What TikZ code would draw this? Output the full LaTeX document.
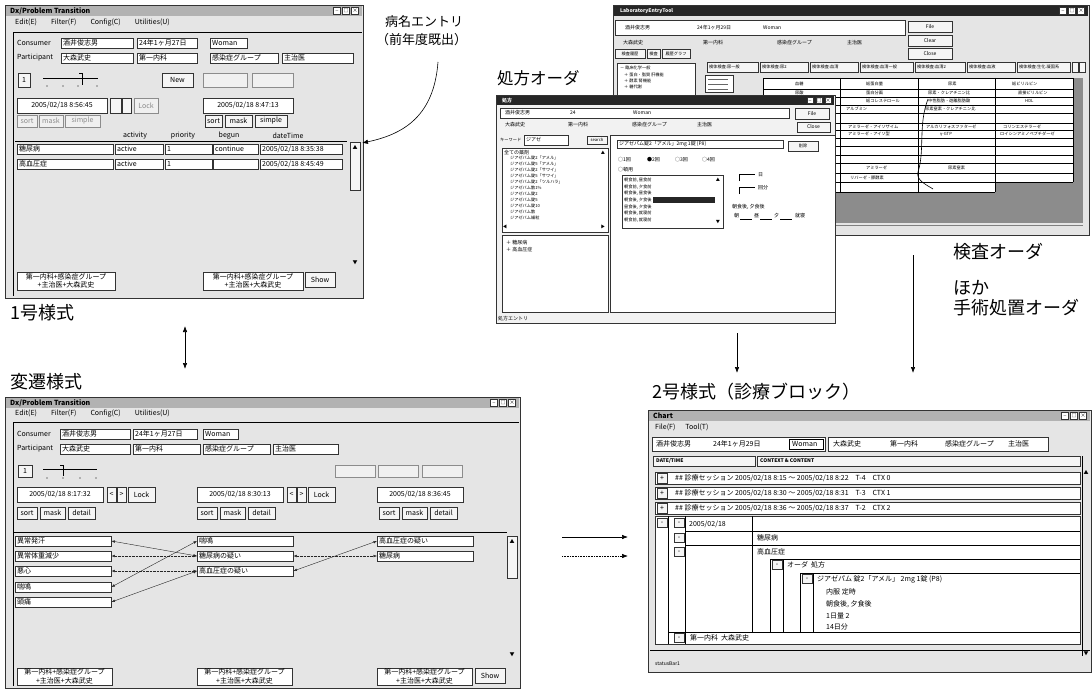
\documentclass[tikz,border=0pt]{standalone}
\usepackage{fontspec}
\setmainfont{Noto Sans CJK JP}
\usetikzlibrary{arrows.meta}

\newcommand\winfs{\fontsize{7}{8.5}\selectfont}
\newcommand\smlfs{\fontsize{5}{6}\selectfont}
\newcommand\tnyfs{\fontsize{4.2}{5}\selectfont}

\tikzset{
  win/.style={draw=black!80, line width=0.6pt, fill=black!10},
  tbar/.style={fill=black!30},
  dbar/.style={fill=black!85},
  fld/.style={draw=black!80, fill=white},
  btn/.style={draw=black!80, fill=black!4},
  gbtn/.style={draw=black!45, fill=black!6},
  tx/.style={font=\winfs, anchor=west, inner sep=0pt},
  ctx/.style={font=\winfs, inner sep=0pt},
  gtx/.style={ctx, text=black!45},
  stx/.style={font=\smlfs, anchor=west, inner sep=0pt},
  ttx/.style={font=\tnyfs, anchor=west, inner sep=0pt},
  wctl/.style={draw=black!80, fill=white, font=\smlfs, inner sep=0pt, minimum size=7pt},
  lbl/.style={font=\fontsize{18}{21}\selectfont, anchor=west, inner sep=0pt},
  item/.style={draw=black!80, fill=white, anchor=west, text width=92pt, inner xsep=2pt,
    inner ysep=0pt, minimum height=10pt, font=\winfs, align=left},
  link/.style={{Latex[length=3.5pt,width=2.6pt]}-{Latex[length=3.5pt,width=2.6pt]}, black!85},
  flow/.style={-{Latex[length=6pt,width=4.5pt]}, black, line width=0.6pt}
}

\begin{document}
\begin{tikzpicture}[x=1pt,y=-1pt]
\useasboundingbox (0,0) rectangle (1092,690);
\fill[white] (0,0) rectangle (1092,690);

% ---------- 1号様式 : Dx/Problem Transition
\draw[win] (5,5) rectangle (363,298);
\fill[tbar] (6,6) rectangle (362,16);
\node[tx, font=\bfseries\winfs] at (10,11) {Dx/Problem Transition};
\foreach \x/\sym in {337/\_, 346/□, 355/×} \node[wctl] at (\x,11) {\sym};
\node[tx] at (15,23) {Edit(E)\hspace{14pt}Filter(F)\hspace{14pt}Config(C)\hspace{14pt}Utilities(U)};
\draw[line width=0.9pt] (13,296) -- (13,32) -- (362,32);
\node[tx] at (17,43) {Consumer};
\foreach \xa/\xb/\lab in {61/133/酒井俊志男, 137/197/24年1ヶ月27日, 210/247/Woman} {
  \draw[fld] (\xa,38) rectangle (\xb,48);
  \node[tx] at (\xa+2,43) {\lab};
}
\node[tx] at (17,58) {Participant};
\foreach \xa/\xb/\lab in {61/133/大森武史, 137/197/第一内科, 210/278/感染症グループ, 282/353/主治医} {
  \draw[fld] (\xa,53) rectangle (\xb,63);
  \node[tx] at (\xa+2,58) {\lab};
}
\draw[btn] (18,73) rectangle (30,87); \node[ctx] at (24,80) {1};
\draw (43,78) -- (98,78);
\draw[line width=0.8pt] (79,73) -- (82,73) -- (82,85);
\foreach \x in {47,63,78,97} \fill (\x,86) circle (0.6);
\draw[btn] (162,73) rectangle (193,87); \node[ctx] at (177.5,80) {New};
\draw[gbtn] (203,73) rectangle (247,87);
\draw[gbtn] (252,73) rectangle (293,87);
\draw[fld] (17,98) rectangle (107,113); \node[ctx] at (62,105.5) {2005/02/18 8:56:45};
\draw[btn] (110,98) rectangle (121,113);
\draw[btn] (122,98) rectangle (131,113);
\draw[gbtn] (134,98) rectangle (158,113); \node[gtx] at (146,105.5) {Lock};
\draw[fld] (203,98) rectangle (293,113); \node[ctx] at (248,105.5) {2005/02/18 8:47:13};
\foreach \xa/\xb/\lab in {17/37/sort, 39/63/mask, 65/100/simple} {
  \draw[gbtn] (\xa,115) rectangle (\xb,127); \node[gtx] at ({(\xa+\xb)/2},121) {\lab};
}
\foreach \xa/\xb/\lab in {205/222/sort, 225/252/mask, 255/287/simple} {
  \draw[btn] (\xa,115) rectangle (\xb,127); \node[ctx] at ({(\xa+\xb)/2},121) {\lab};
}
\foreach \x/\lab in {135/activity, 183/priority, 229/begun, 288/dateTime}
  \node[ctx] at (\x,136) {\lab};
\draw (15,141) -- (347,141);
\draw[btn] (350,142) rectangle (360,190);
\node[ctx, font=\smlfs] at (355,147) {▲};
\node[ctx, font=\smlfs] at (355,263) {▼};
\foreach \xa/\xb/\lab in {17/113/糖尿病, 115/163/active, 165/212/1, 213/258/continue, 260/342/{2005/02/18 8:35:38}} {
  \draw[fld] (\xa,144) rectangle (\xb,154); \node[tx] at (\xa+2,149) {\lab};
}
\foreach \xa/\xb/\lab in {17/113/高血圧症, 115/163/active, 165/212/1, 213/258/{}, 260/342/{2005/02/18 8:45:49}} {
  \draw[fld] (\xa,159) rectangle (\xb,169); \node[tx] at (\xa+2,164) {\lab};
}
\foreach \xa/\xb in {17/115, 203/303} {
  \draw[fld] (\xa,272) rectangle (\xb,290);
  \node[ctx, align=center] at ({(\xa+\xb)/2},281) {第一内科+感染症グループ\\+主治医+大森武史};
}
\draw[btn] (305,272) rectangle (335,287); \node[ctx] at (320,279.5) {Show};
\node[lbl] (form1) at (10,313) {1号様式};

% ---------- 変遷様式 : Dx/Problem Transition (3 columns)
\draw[win] (5,397) rectangle (520,688);
\fill[tbar] (6,398) rectangle (519,408);
\node[tx, font=\bfseries\winfs] at (10,403) {Dx/Problem Transition};
\foreach \x/\sym in {494/\_, 503/□, 512/×} \node[wctl] at (\x,403) {\sym};
\node[tx] at (15,414) {Edit(E)\hspace{14pt}Filter(F)\hspace{14pt}Config(C)\hspace{14pt}Utilities(U)};
\draw[line width=0.9pt] (13,686) -- (13,422) -- (519,422);
\node[tx] at (17,434) {Consumer};
\foreach \xa/\xb/\lab in {60/130/酒井俊志男, 133/197/24年1ヶ月27日, 203/238/Woman} {
  \draw[fld] (\xa,429) rectangle (\xb,439);
  \node[tx] at (\xa+2,434) {\lab};
}
\node[tx] at (17,449) {Participant};
\foreach \xa/\xb/\lab in {60/130/大森武史, 133/200/第一内科, 203/270/感染症グループ, 273/338/主治医} {
  \draw[fld] (\xa,444) rectangle (\xb,454);
  \node[tx] at (\xa+2,449) {\lab};
}
\draw[btn] (18,465) rectangle (32,477); \node[ctx] at (25,471) {1};
\draw (43,469) -- (97,469);
\draw[line width=0.8pt] (60,465) -- (63,465) -- (63,476);
\foreach \x in {47,63,80,96} \fill (\x,478) circle (0.6);
\foreach \xa/\xb in {335/375, 378/418, 422/462} \draw[gbtn] (\xa,465) rectangle (\xb,477);
\foreach \xa/\lab in {17/{2005/02/18 8:17:32}, 197/{2005/02/18 8:30:13}, 377/{2005/02/18 8:36:45}} {
  \draw[fld] (\xa,487) rectangle (\xa+86,502); \node[ctx] at (\xa+43,494.5) {\lab};
}
\foreach \xa in {107,287} {
  \draw[btn] (\xa,487) rectangle (\xa+9,502); \node[ctx] at (\xa+4.5,494.5) {<};
  \draw[btn] (\xa+10,487) rectangle (\xa+19,502); \node[ctx] at (\xa+14.5,494.5) {>};
  \draw[btn] (\xa+21,487) rectangle (\xa+48,502); \node[ctx] at (\xa+34.5,494.5) {Lock};
}
\foreach \xa in {17,197,379} {
  \draw[btn] (\xa,507) rectangle (\xa+20,519); \node[ctx] at (\xa+10,513) {sort};
  \draw[btn] (\xa+23,507) rectangle (\xa+48,519); \node[ctx] at (\xa+35.5,513) {mask};
  \draw[btn] (\xa+51,507) rectangle (\xa+78,519); \node[ctx] at (\xa+64.5,513) {detail};
}
\draw (13,532) -- (507,532);
\draw[btn] (507,536) rectangle (517,578);
\node[ctx, font=\smlfs] at (512,541) {▲};
\node[ctx, font=\smlfs] at (512,655) {▼};
% transition lists
\foreach \n/\y/\lab in {a1/541/異常発汗, a2/556/異常体重減少, a3/571/悪心, a4/587/喘鳴, a5/602/頭痛}
  \node[item] (\n) at (15,\y) {\lab};
\foreach \n/\y/\lab in {b1/541/喘鳴, b2/556/糖尿病の疑い, b3/571/高血圧症の疑い}
  \node[item] (\n) at (197,\y) {\lab};
\foreach \n/\y/\lab in {c1/541/高血圧症の疑い, c2/556/糖尿病}
  \node[item] (\n) at (377,\y) {\lab};
\draw[link] (a1.east) -- (b2.west);
\draw[link, densely dotted] (a2.east) -- (b2.west);
\draw[link, densely dotted] (a3.east) -- (b3.west);
\draw[link] (a4.east) -- (b1.west);
\draw[link] (a5.east) -- (b3.west);
\draw[link, densely dotted] (b2.east) -- (c2.west);
\draw[link] (b3.east) -- (c1.west);
\foreach \xa in {17,197,377} {
  \draw[fld] (\xa,668) rectangle (\xa+95,685);
  \node[ctx, align=center] at (\xa+47.5,676.5) {第一内科+感染症グループ\\+主治医+大森武史};
}
\draw[btn] (475,668) rectangle (505,683); \node[ctx] at (490,675.5) {Show};
\node[lbl] (form1t) at (10,382) {変遷様式};

% ---------- 検査オーダ : LaboratoryEntryTool
\draw[win] (613,5) rectangle (1089,235);
\fill[dbar] (614,6) rectangle (1088,16);
\node[tx, text=white, font=\bfseries\itshape\smlfs] at (620,11) {LaboratoryEntryTool};
\foreach \x/\sym in {1063/\_, 1072/□, 1081/×} \node[wctl] at (\x,11) {\sym};
\draw[fld] (615,20) rectangle (905,35);
\foreach \x/\lab in {625/酒井俊志男, 697/24年1ヶ月29日, 763/Woman} \node[stx] at (\x,27.5) {\lab};
\foreach \y/\lab in {27/File, 40.5/Clear, 53.5/Close} {
  \draw[btn] (908,\y-5.5) rectangle (952,\y+5.5); \node[ctx, font=\smlfs] at (930,\y) {\lab};
}
\foreach \x/\lab in {623/大森武史, 703/第一内科, 777/感染症グループ, 847/主治医} \node[stx] at (\x,43) {\lab};
\foreach \xa/\xb/\lab in {615/645/検査履歴, 647/660/検査, 662/690/履歴グラフ} {
  \draw[btn] (\xa,49) rectangle (\xb,58); \node[ctx, font=\tnyfs] at ({(\xa+\xb)/2},53.5) {\lab};
}
\draw[fld] (617,63) rectangle (695,100);
\foreach \x/\y/\lab in {620/68/－ 臨床化学一般, 624/75/＋ 蛋白・脂質 肝機能, 624/81/＋ 酵素 腎機能, 624/87/＋ 糖代謝}
  \node[ttx] at (\x,\y) {\lab};
\foreach \xa/\xb/\lab in {707/758/検体検査:尿一般, 760/808/検体検査:尿2, 810/858/検体検査:血清, 860/913/検体検査:血清一般, 915/965/検体検査:血清2, 967/1015/検体検査:血液, 1017/1070/検体検査:生化:凝固系} {
  \draw[btn] (\xa,62) rectangle (\xb,72); \node[ttx] at (\xa+2,67) {\lab};
}
\draw[btn] (1072,62) rectangle (1078,72); \draw[btn] (1079,62) rectangle (1085,72);
\draw[fld] (705,75) rectangle (733,92);
\foreach \y in {79,84,89} \draw[black!60] (708,\y) -- (728,\y);
% lab grid
\fill[black!45] (763,78) rectangle (1083,223);
\fill[white] (763,78) rectangle (995,192);
\fill[white] (995,78) rectangle (1073,182);
\foreach \y in {78,89,97,105,113,123,130,138,146,155,163,173,182,192} \draw (763,\y) -- (995,\y);
\foreach \y in {78,89,97,105,113,123,130,138,146,155,163,173,182} \draw (995,\y) -- (1073,\y);
\foreach \x in {763,840,918,995} \draw (\x,78) -- (\x,192);
\draw (1073,78) -- (1073,182);
\foreach \x/\y/\lab in {795/83.5/血糖, 866/83.5/総蛋白量, 948/83.5/尿素, 1012/83.5/総ビリルビン,
    795/93/尿酸, 866/93/蛋白分画, 928/93/尿素・クレアチニン比, 1018/93/直接ビリルビン,
    866/101/総コレステロール, 928/101/中性脂肪・遊離脂肪酸, 1025/101/HDL,
    846/109/アルブミン/グロブリン比, 925/109/尿素窒素・クレアチニン比,
    848/126.5/アミラーゼ・アイソザイム, 926/126.5/アルカリフォスファターゼ, 1003/126.5/コリンエステラーゼ,
    848/134/アミラーゼ・アイソ型, 940/134/γ-GTP, 1000/134/ロイシンアミノペプチダーゼ,
    866/168/アミラーゼ, 948/168/尿素窒素, 850/177.5/リパーゼ・膵酵素}
  \node[ttx] at (\x,\y) {\lab};
\draw[line width=0.6pt] (928,99) .. controls (918,125) and (925,150) .. (918,172) .. controls (916,180) and (925,184) .. (933,189);
\draw[black!50] (833,225) -- (1083,225);

% ---------- 処方オーダ : prescription entry
\draw[win, fill=black!5] (496,95) rectangle (835,323);
\fill[dbar] (497,96) rectangle (834,105);
\node[tx, text=white, font=\bfseries\smlfs] at (502,100.5) {処方};
\foreach \x/\sym in {810/\_, 819/□, 828/×} \node[wctl, minimum size=6pt] at (\x,100.5) {\sym};
\draw[fld] (500,108) rectangle (789,118);
\foreach \x/\lab in {505/酒井俊志男, 570/24, 633/Woman} \node[stx] at (\x,113) {\lab};
\draw[btn] (795,108) rectangle (829,119); \node[ctx, font=\smlfs] at (812,113.5) {File};
\draw[btn] (797,122) rectangle (830,132); \node[ctx, font=\smlfs] at (813.5,127) {Close};
\foreach \x/\lab in {505/大森武史, 568/第一内科, 632/感染症グループ, 697/主治医} \node[stx] at (\x,125) {\lab};
\node[ttx] at (500,140) {キーワード};
\draw[fld] (524,135) rectangle (568,145); \node[stx] at (526,140) {ジアゼ};
\draw[btn] (587,136) rectangle (607,144); \node[ctx, font=\tnyfs] at (597,140) {search};
\draw[fld] (502,148) rectangle (608,232);
\node[stx] at (504,152.5) {全ての薬剤};
\foreach \y/\lab in {158/ジアゼパム錠2「アメル」, 164/ジアゼパム錠5「アメル」, 170/ジアゼパム錠2「サワイ」, 176/ジアゼパム錠5「サワイ」,
    182/ジアゼパム錠2「ツルハラ」, 188/ジアゼパム散1\%, 194/ジアゼパム錠2, 200/ジアゼパム錠5, 206/ジアゼパム錠10, 212/ジアゼパム散, 218/ジアゼパム細粒}
  \node[ttx] at (510,\y) {\lab};
\node[ctx, font=\tnyfs] at (603,153) {▲};
\node[ctx, font=\tnyfs] at (505,227) {◀};
\node[ctx, font=\tnyfs] at (603,227) {▶};
\draw[fld] (502,235) rectangle (608,312);
\node[stx] at (506,243) {＋ 糖尿病};
\node[stx] at (506,250) {＋ 高血圧症};
\draw[fld] (610,135) rectangle (835,312);
\draw[fld] (617,140) rectangle (783,148); \node[stx] at (619,144) {ジアゼパム錠2「アメル」2mg 1錠 (P8)};
\draw[btn] (788,141) rectangle (818,151); \node[ctx, font=\tnyfs] at (803,146) {削除};
\foreach \x/\lab in {618/○1回, 647/●2回, 675/○3回, 702/○4回} \node[stx] at (\x,160) {\lab};
\node[stx] at (618,170) {○頓用};
\draw[fld] (622,175) rectangle (723,228);
\fill[black!85] (653,197) rectangle (715,203);
\foreach \y/\lab in {180/{朝食前, 昼食前}, 187/{朝食前, 夕食前}, 193/{朝食後, 昼食後}, 200/{朝食後, 夕食後}, 207/{昼食後, 夕食後}, 213/{朝食後, 就寝前}, 220/{朝食前, 就寝前}}
  \node[ttx] at (624,\y) {\lab};
\node[ctx, font=\tnyfs] at (718,180) {▲};
\node[ctx, font=\tnyfs] at (718,222) {▼};
\draw (739,181) -- (739,174) -- (755,174); \node[stx] at (758,175) {日};
\draw (739,194) -- (739,187) -- (755,187); \node[stx] at (758,188) {回分};
\node[stx] at (732,207) {朝食後, 夕食後};
\foreach \x/\lab in {734/朝, 754/昼, 774/夕, 795/就寝} \node[stx] at (\x,216) {\lab};
\foreach \x in {740,760,780} \draw (\x,219) -- (\x+12,219);
\node[stx] at (498,319) {処方エントリ};

% ---------- 2号様式 : Chart
\draw[win] (648,410) rectangle (1091,672);
\fill[tbar] (649,411) rectangle (1090,421);
\node[tx, font=\bfseries\winfs] at (653,416) {Chart};
\foreach \x/\sym in {1065/\_, 1074/□, 1083/×} \node[wctl] at (\x,416) {\sym};
\node[tx] at (655,427) {File(F)\hspace{10pt}Tool(T)};
\draw[fld] (652,437) rectangle (825,451);
\node[tx] at (656,444) {酒井俊志男};
\node[tx] at (713,444) {24年1ヶ月29日};
\draw (789,439) rectangle (823,449); \node[tx] at (792,444) {Woman};
\draw[fld] (828,437) rectangle (1048,451);
\foreach \x/\lab in {833/大森武史, 890/第一内科, 945/感染症グループ, 1008/主治医} \node[tx] at (\x,444) {\lab};
\draw[btn] (653,456) rectangle (755,466); \node[tx, font=\bfseries\smlfs] at (656,461) {DATE/TIME};
\draw[btn] (757,456) rectangle (1080,466); \node[tx, font=\bfseries\smlfs] at (760,461) {CONTEXT \& CONTENT};
\draw (1082,456) -- (1082,656);
\node[ctx, font=\smlfs] at (1086,472) {▲};
\foreach \y/\ta/\tb/\tn/\cn in {478/8:15/8:22/T-4/0, 493/8:30/8:31/T-3/1, 508/8:36/8:37/T-2/2} {
  \draw[fld] (655,\y-6) rectangle (1080,\y+6);
  \draw[btn] (657,\y-5) rectangle (667,\y+5); \node[ctx] at (662,\y) {+};
  \node[tx, font=\itshape\winfs] at (675,\y) {\#\# 診療セッション 2005/02/18 \ta\ ～ 2005/02/18 \tb\quad \tn\quad CTX \cn};
}
% expanded session
\draw[fld] (655,516) rectangle (1080,644);
\draw (668,516) -- (668,644);
\draw (685,516) -- (685,644);
\draw (752,516) -- (752,632);
\draw (685,531) -- (1080,531);
\draw (685,545) -- (1080,545);
\draw (668,632) -- (1080,632);
\draw (770,559) -- (1080,559);
\draw (770,559) -- (770,632);
\draw (783,559) -- (783,632);
\draw (800,573) -- (1080,573);
\draw (800,573) -- (800,632);
\draw (813,573) -- (813,632);
\foreach \x/\y in {662/523, 679/523, 679/538, 679/552, 777/565, 807/579, 679/638} {
  \draw[btn] (\x-5,\y-4.5) rectangle (\x+5,\y+4.5); \node[ctx] at (\x,\y) {-};
}
\node[tx] at (689,524) {2005/02/18};
\node[tx] at (757,538) {糖尿病};
\node[tx] at (757,552) {高血圧症};
\node[tx] at (787,565) {オーダ\hspace{3pt}処方};
\node[tx] at (817,579) {ジアゼパム 錠2「アメル」 2mg 1錠 (P8)};
\foreach \y/\lab in {592/内服 定時, 604/{朝食後, 夕食後}, 616/1日量 2, 627/14日分} \node[tx] at (826,\y) {\lab};
\node[tx] at (690,638) {第一内科\hspace{3pt}大森武史};
\draw (650,650) -- (1090,650);
\node[ctx, font=\smlfs] at (1086,654) {▼};
\node[stx] at (655,664) {statusBar1};

% ---------- captions
\node[lbl, font=\fontsize{13}{15}\selectfont] (dxcap) at (385,22) {病名エントリ};
\node[lbl, font=\fontsize{13}{15}\selectfont] (dxcap2) at (376,40) {（前年度既出）};
\node[lbl, font=\fontsize{16.5}{19}\selectfont] (rxcap) at (497,78) {処方オーダ};
\node[lbl] (labcap) at (953,252) {検査オーダ};
\node[lbl] (labcap2) at (953,288) {ほか};
\node[lbl] (labcap3) at (953,308) {手術処置オーダ};
\node[lbl] (form2) at (652,392) {2号様式（診療ブロック）};

% ---------- connectors
\coordinate (dxa) at (438,62);
\coordinate (dxb) at (362,143);
\draw[flow] (dxa) .. controls (434,115) and (405,134) .. (dxb);
\coordinate (f1s) at (185,326);
\coordinate (f2n) at (185,369);
\draw[flow, {Latex[length=6pt,width=4.5pt]}-{Latex[length=6pt,width=4.5pt]}] (f1s) -- (f2n);
\coordinate (rxs) at (737,333);
\coordinate (chn1) at (737,373);
\draw[flow] (rxs) -- (chn1);
\coordinate (lbs) at (913,255);
\coordinate (chn2) at (913,373);
\draw[flow] (lbs) -- (chn2);
\coordinate (trs1) at (562,537);
\coordinate (che1) at (628,537);
\coordinate (trs2) at (562,556);
\coordinate (che2) at (628,556);
\draw[flow] (trs1) -- (che1);
\draw[flow, densely dotted] (trs2) -- (che2);
\end{tikzpicture}
\end{document}
